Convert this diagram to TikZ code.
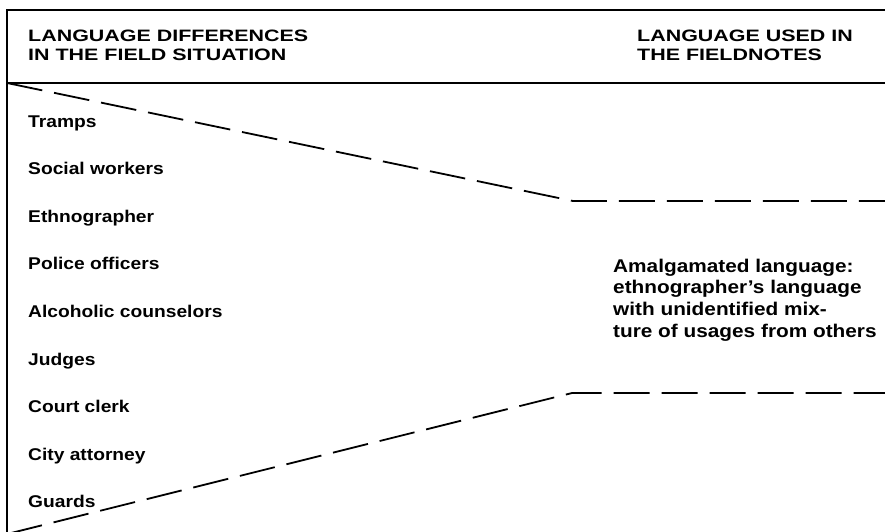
\documentclass[tikz,border=0pt]{standalone}
\usepackage{fontspec}
\setmainfont[FakeStretch=1.13]{Liberation Sans}
\newfontfamily\hdrfont[FakeStretch=1.3]{Liberation Sans}
\begin{document}
\begin{tikzpicture}[x=1pt,y=-1pt,
  frameline/.style={line width=1.8pt},
  dashline/.style={line width=1.8pt, dash pattern=on 36pt off 12pt},
  lbl/.style={anchor=base west, inner sep=0pt, font=\fontsize{17}{20}\selectfont\bfseries},
  hdr/.style={anchor=base west, inner sep=0pt, font=\hdrfont\fontsize{16.5}{20}\selectfont\bfseries},
  body/.style={anchor=base west, inner sep=0pt, font=\fontsize{18.4}{21.7}\selectfont\bfseries},
]
\useasboundingbox (0,0) rectangle (885,531);
% frame
\coordinate (ftr) at (885,10);
\coordinate (ftl) at (7,10);
\coordinate (fbl) at (7,535);
\coordinate (htl) at (7,83);
\coordinate (htr) at (885,83);
\draw[frameline] (ftr) -- (ftl) -- (fbl);
\draw[frameline] (htl) -- (htr);
% headers
\node[hdr] (hleft1) at (28,41) {LANGUAGE DIFFERENCES};
\node[hdr] (hleft2) at (28,60.5) {IN THE FIELD SITUATION};
\node[hdr] (hright1) at (637,41) {LANGUAGE USED IN};
\node[hdr] (hright2) at (637,60.5) {THE FIELDNOTES};
% items
\foreach \t [count=\i] in {Tramps,Social workers,Ethnographer,Police officers,Alcoholic counselors,Judges,Court clerk,City attorney,Guards}
  \node[lbl] (item\i) at (28,{127+47.6*(\i-1)}) {\t};
% dashed funnel
\coordinate (ustart) at (7,83);
\coordinate (ukink) at (573,201);
\coordinate (uend) at (885,201);
\coordinate (lstart) at (7,534);
\coordinate (lkink) at (572,393);
\coordinate (lend) at (885,393);
\draw[dashline] (ustart) -- (ukink) -- (uend);
\draw[dashline] (lstart) -- (lkink) -- (lend);
% right text
\node[body] (am1) at (613,272) {Amalgamated language:};
\node[body] (am2) at (613,293.7) {ethnographer’s language};
\node[body] (am3) at (613,315.4) {with unidentified mix-};
\node[body] (am4) at (613,337.1) {ture of usages from others};
\end{tikzpicture}
\end{document}
